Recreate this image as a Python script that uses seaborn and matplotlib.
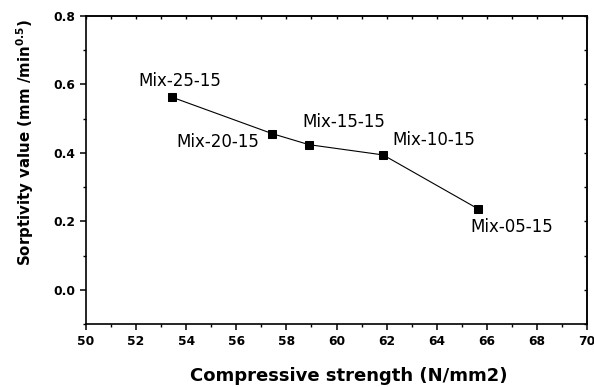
import matplotlib
matplotlib.use("Agg")
import matplotlib.pyplot as plt
from matplotlib.ticker import MultipleLocator
import pandas as pd
import seaborn as sns

# values
mixes = ["Mix-25-15", "Mix-20-15", "Mix-15-15", "Mix-10-15", "Mix-05-15"]
strength = [53.42, 57.44, 58.90, 61.86, 65.66]
sorptivity = [0.563, 0.456, 0.424, 0.394, 0.236]

# label placement (pixel offsets from each point, alignment)
label_offsets = [(8, 16), (-13, -8), (35, 23), (9, 15), (33, -18)]
label_align = ["center", "right", "center", "left", "center"]

df = pd.DataFrame({"strength": strength, "sorptivity": sorptivity, "mix": mixes})

sns.set_style("ticks")
plt.rcParams["font.family"] = ["DejaVu Sans"]
plt.rcParams["mathtext.fontset"] = "dejavusans"
plt.rcParams["text.color"] = "black"
plt.rcParams["axes.labelcolor"] = "black"

fig = plt.figure(figsize=(5.94, 3.87), dpi=100)
ax = fig.add_axes([0.1448, 0.1628, 0.8435, 0.7959])

sns.lineplot(data=df, x="strength", y="sorptivity", sort=False, color="black",
             linewidth=0.8, marker="s", markersize=5.2, markeredgecolor="black",
             ax=ax)

for (dx, dy), ha, m, x, y in zip(label_offsets, label_align, mixes, strength, sorptivity):
    ax.annotate(m, (x, y), xytext=(dx, dy), textcoords="offset pixels",
                ha=ha, va="center", fontsize=12, color="black")

ax.set_xlim(50, 70)
ax.set_ylim(-0.1, 0.8)
ax.xaxis.set_major_locator(MultipleLocator(2))
ax.xaxis.set_minor_locator(MultipleLocator(1))
ax.yaxis.set_major_locator(MultipleLocator(0.2))
ax.yaxis.set_minor_locator(MultipleLocator(0.1))
ax.set_yticks([0.0, 0.2, 0.4, 0.6, 0.8])

for s in ax.spines.values():
    s.set_visible(True)
    s.set_linewidth(1.2)
    s.set_color("black")

ax.tick_params(which="major", direction="out", length=4, width=1.1, color="black",
               labelsize=8.8, labelcolor="black", pad=4)
ax.tick_params(which="minor", direction="out", length=2.5, width=1.0, color="black")
for lab in ax.get_xticklabels() + ax.get_yticklabels():
    lab.set_fontweight("bold")

# inward ticks on top and right edges
top = ax.secondary_xaxis("top")
top.xaxis.set_major_locator(MultipleLocator(1))
top.tick_params(direction="in", length=2.5, width=1.0, color="black", labeltop=False)
right = ax.secondary_yaxis("right")
right.yaxis.set_major_locator(MultipleLocator(0.1))
right.tick_params(direction="in", length=2.5, width=1.0, color="black", labelright=False)
top.spines["top"].set_linewidth(1.2)
right.spines["right"].set_linewidth(1.2)

ax.set_xlabel("Compressive strength (N/mm2)", fontsize=13, fontweight="bold")
ax.set_ylabel("Sorptivity value (mm /min$^{\\mathbf{0.5}}$)", fontsize=10.8,
              fontweight="bold")
ax.xaxis.set_label_coords(0.525, -0.14)
ax.yaxis.set_label_coords(-0.10, 0.59)

fig.savefig("out.png", dpi=100)
